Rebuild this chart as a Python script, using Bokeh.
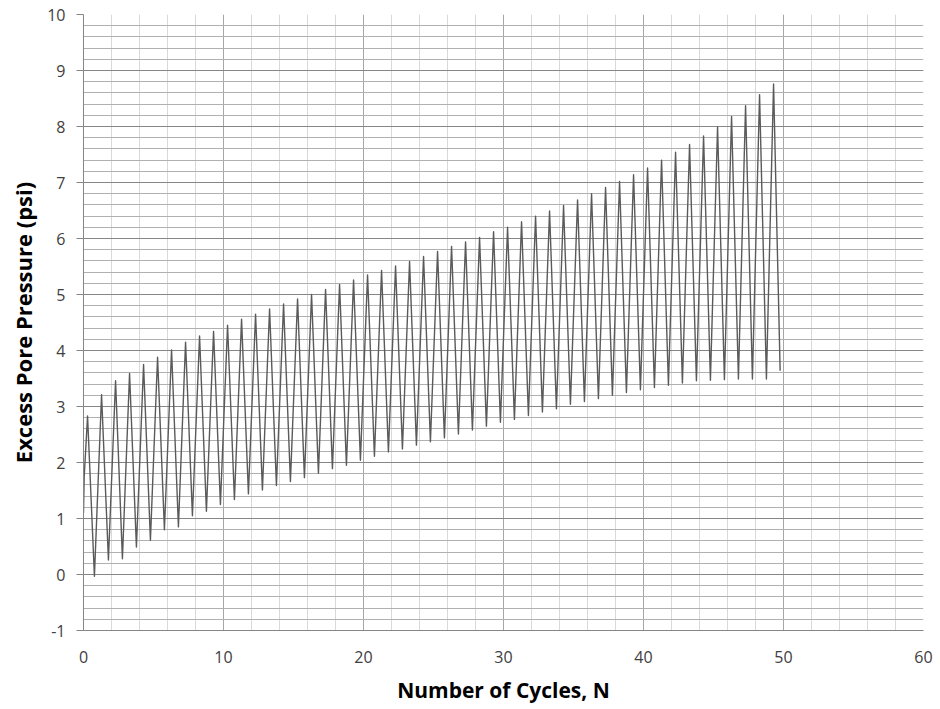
from bokeh.plotting import figure
from bokeh.models import Range1d, FixedTicker, ColumnDataSource
from bokeh.embed import file_html
from bokeh.resources import INLINE

# ---- data ----
peak_values = [2.83, 3.21, 3.46, 3.59, 3.75, 3.88, 4.01, 4.15, 4.26, 4.34,
               4.45, 4.56, 4.65, 4.74, 4.83, 4.92, 5.00, 5.09, 5.18, 5.26,
               5.35, 5.43, 5.51, 5.59, 5.68, 5.77, 5.86, 5.94, 6.02, 6.12,
               6.20, 6.30, 6.40, 6.49, 6.59, 6.69, 6.80, 6.91, 7.02, 7.14,
               7.26, 7.40, 7.54, 7.68, 7.83, 7.99, 8.18, 8.37, 8.57, 8.76]
trough_values = [-0.03, 0.26, 0.28, 0.49, 0.61, 0.80, 0.85, 1.05, 1.13, 1.25,
                 1.34, 1.44, 1.51, 1.59, 1.66, 1.73, 1.81, 1.89, 1.95, 2.04,
                 2.11, 2.19, 2.24, 2.31, 2.37, 2.44, 2.51, 2.58, 2.65, 2.72,
                 2.77, 2.84, 2.90, 2.96, 3.04, 3.09, 3.14, 3.20, 3.25, 3.30,
                 3.34, 3.38, 3.42, 3.46, 3.47, 3.48, 3.49, 3.49, 3.49]
peak_phase = 0.29      # cycle fraction at which each peak occurs
trough_phase = 0.78    # cycle fraction at which each trough occurs
start_x = [0.0, 0.05]
start_y = [1.10, 1.75]
end_x = 49.76
end_y = 3.64

x_ticks = [0, 10, 20, 30, 40, 50, 60]
y_ticks = [-1, 0, 1, 2, 3, 4, 5, 6, 7, 8, 9, 10]

# ---- build the trace ----
xs = list(start_x)
ys = list(start_y)
for k, pv in enumerate(peak_values):
    xs.append(k + peak_phase)
    ys.append(pv)
    if k < len(trough_values):
        xs.append(k + trough_phase)
        ys.append(trough_values[k])
xs.append(end_x)
ys.append(end_y)
src = ColumnDataSource(dict(x=xs, y=ys))

FONT = "Open Sans"

p = figure(width=935, height=707,
           min_border_left=83, min_border_top=14, min_border_right=12,
           min_border_bottom=77,
           x_range=Range1d(0, 60), y_range=Range1d(-1, 10),
           output_backend="svg", toolbar_location=None)
p.outline_line_color = None
p.background_fill_color = "white"
p.border_fill_color = "white"

x_minor = [i * 2 for i in range(31)]
y_minor = [round(-1 + 0.2 * i, 1) for i in range(56)]
p.xaxis.ticker = FixedTicker(ticks=x_ticks, minor_ticks=x_minor)
p.yaxis.ticker = FixedTicker(ticks=y_ticks, minor_ticks=y_minor)
p.yaxis.major_label_overrides = {-1: "-1"}

p.xgrid.grid_line_color = "#a6a6a6"
p.xgrid.minor_grid_line_color = "#d9d9d9"
p.ygrid.grid_line_color = "#868686"
p.ygrid.minor_grid_line_color = "#b0b0b0"

for ax in (p.xaxis[0], p.yaxis[0]):
    ax.axis_line_color = "#868686"
    ax.major_tick_line_color = "#868686"
    ax.minor_tick_line_color = None
    ax.major_tick_in = 0
    ax.major_label_text_font = FONT
    ax.major_label_text_font_size = "16px"
    ax.major_label_text_color = "#404040"
    ax.axis_label_text_font = FONT
    ax.axis_label_text_font_style = "bold"
    ax.axis_label_text_color = "#000000"

p.xaxis.axis_label_text_font_size = "21px"
p.yaxis.axis_label_text_font_size = "22px"

p.xaxis.major_tick_out = 0
p.xaxis.major_label_standoff = 16
p.xaxis.axis_label_standoff = 10
p.yaxis.major_tick_out = 7
p.yaxis.major_label_standoff = 11
p.yaxis.axis_label_standoff = 6

p.xaxis.axis_label = "Number of Cycles, N"
p.yaxis.axis_label = "Excess Pore Pressure (psi)"

p.line("x", "y", source=src, line_color="#5a5a5a", line_width=1.4,
       line_join="round")

open("out.html", "w").write(file_html(p, INLINE))
